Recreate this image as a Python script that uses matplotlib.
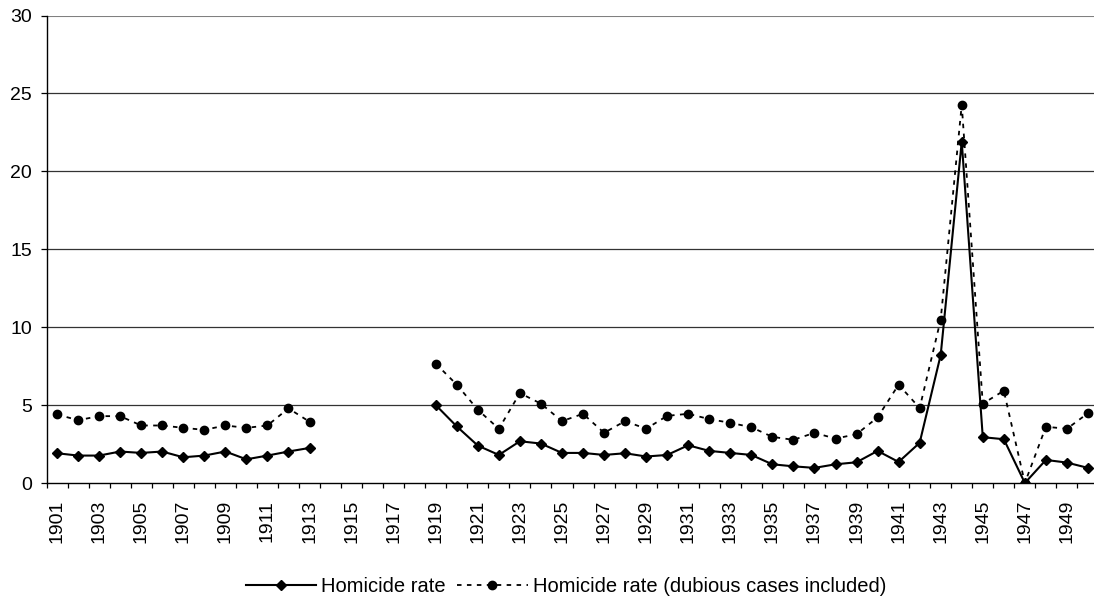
import numpy as np
import matplotlib
matplotlib.use("Agg")
import matplotlib.pyplot as plt
from matplotlib.ticker import FixedLocator

plt.rcParams['font.family'] = ['Liberation Sans', 'DejaVu Sans']

years = list(range(1901, 1951))
nan = np.nan

homicide = [1.91, 1.76, 1.76, 2.02, 1.93, 2.02, 1.65, 1.76, 2.02, 1.52, 1.76, 2.02, 2.25,
            nan, nan, nan, nan, nan,
            5.00, 3.63, 2.40, 1.80, 2.68, 2.53, 1.93, 1.93, 1.80, 1.91, 1.70, 1.80, 2.42,
            2.06, 1.93, 1.80, 1.20, 1.07, 0.97,
            1.20, 1.33, 2.06, 1.35, 2.58, 8.22, 21.9, 2.94, 2.81, 0.0, 1.48, 1.31, 0.97]

homicide_dubious = [4.40, 4.03, 4.29, 4.29, 3.69, 3.69, 3.54, 3.41, 3.69, 3.54, 3.69, 4.79, 3.93,
                    nan, nan, nan, nan, nan,
                    7.66, 6.31, 4.70, 3.48, 5.77, 5.09, 3.97, 4.44, 3.22, 3.97, 3.48, 4.31, 4.44,
                    4.10, 3.86, 3.58, 2.96, 2.77, 3.22,
                    2.85, 3.13, 4.21, 6.31, 4.81, 10.49, 24.27, 5.09, 5.92, 0.0, 3.61, 3.48, 4.48]

y_ticks = [0, 5, 10, 15, 20, 25, 30]
series_labels = ["Homicide rate", "Homicide rate (dubious cases included)"]

W, H = 1094, 602
fig = plt.figure(figsize=(W / 100, H / 100), dpi=100)
ax = fig.add_axes([46.5 / W, 1 - 483 / H, 1052 / W, (483 - 15.5) / H])

x = np.arange(len(years))
ax.plot(x, homicide, color='black', lw=1.5, marker='D', ms=4.8, label=series_labels[0], zorder=3)
ax.plot(x, homicide_dubious, color='black', lw=1.3, ls=(0, (2.5, 3)), marker='o', ms=6,
        label=series_labels[1], zorder=3)

ax.set_xlim(-0.5, len(years) - 0.5)
ax.set_ylim(0, 30)

# gridlines
for yv in y_ticks[1:]:
    ax.axhline(yv, color='#808080' if yv == 30 else '#333333', lw=1.5 if yv == 30 else 0.9, zorder=1)

ax.set_yticks(y_ticks)
ax.set_yticklabels([str(v) for v in y_ticks])
ax.tick_params(axis='y', length=4.3, width=0.9, pad=6, labelsize=14, direction='out')

major = x[::2]
ax.set_xticks(major)
ax.set_xticklabels([str(years[i]) for i in major], rotation=90)
ax.xaxis.set_minor_locator(FixedLocator(np.arange(-0.5, len(years), 1.0)))
ax.tick_params(axis='x', which='major', length=0, pad=12, labelsize=14)
ax.tick_params(axis='x', which='minor', length=3.6, width=0.9, direction='out')

for s in ['top', 'right']:
    ax.spines[s].set_visible(False)
ax.spines['left'].set_linewidth(1.0)
ax.spines['bottom'].set_linewidth(1.0)

fig.legend(loc='center', bbox_to_anchor=(566 / W, 1 - 587 / H), ncol=2, frameon=False,
           fontsize=14.5, handlelength=3.5, handletextpad=0.25, columnspacing=0.55,
           borderpad=0, borderaxespad=0)

fig.savefig('out.png', dpi=100)
